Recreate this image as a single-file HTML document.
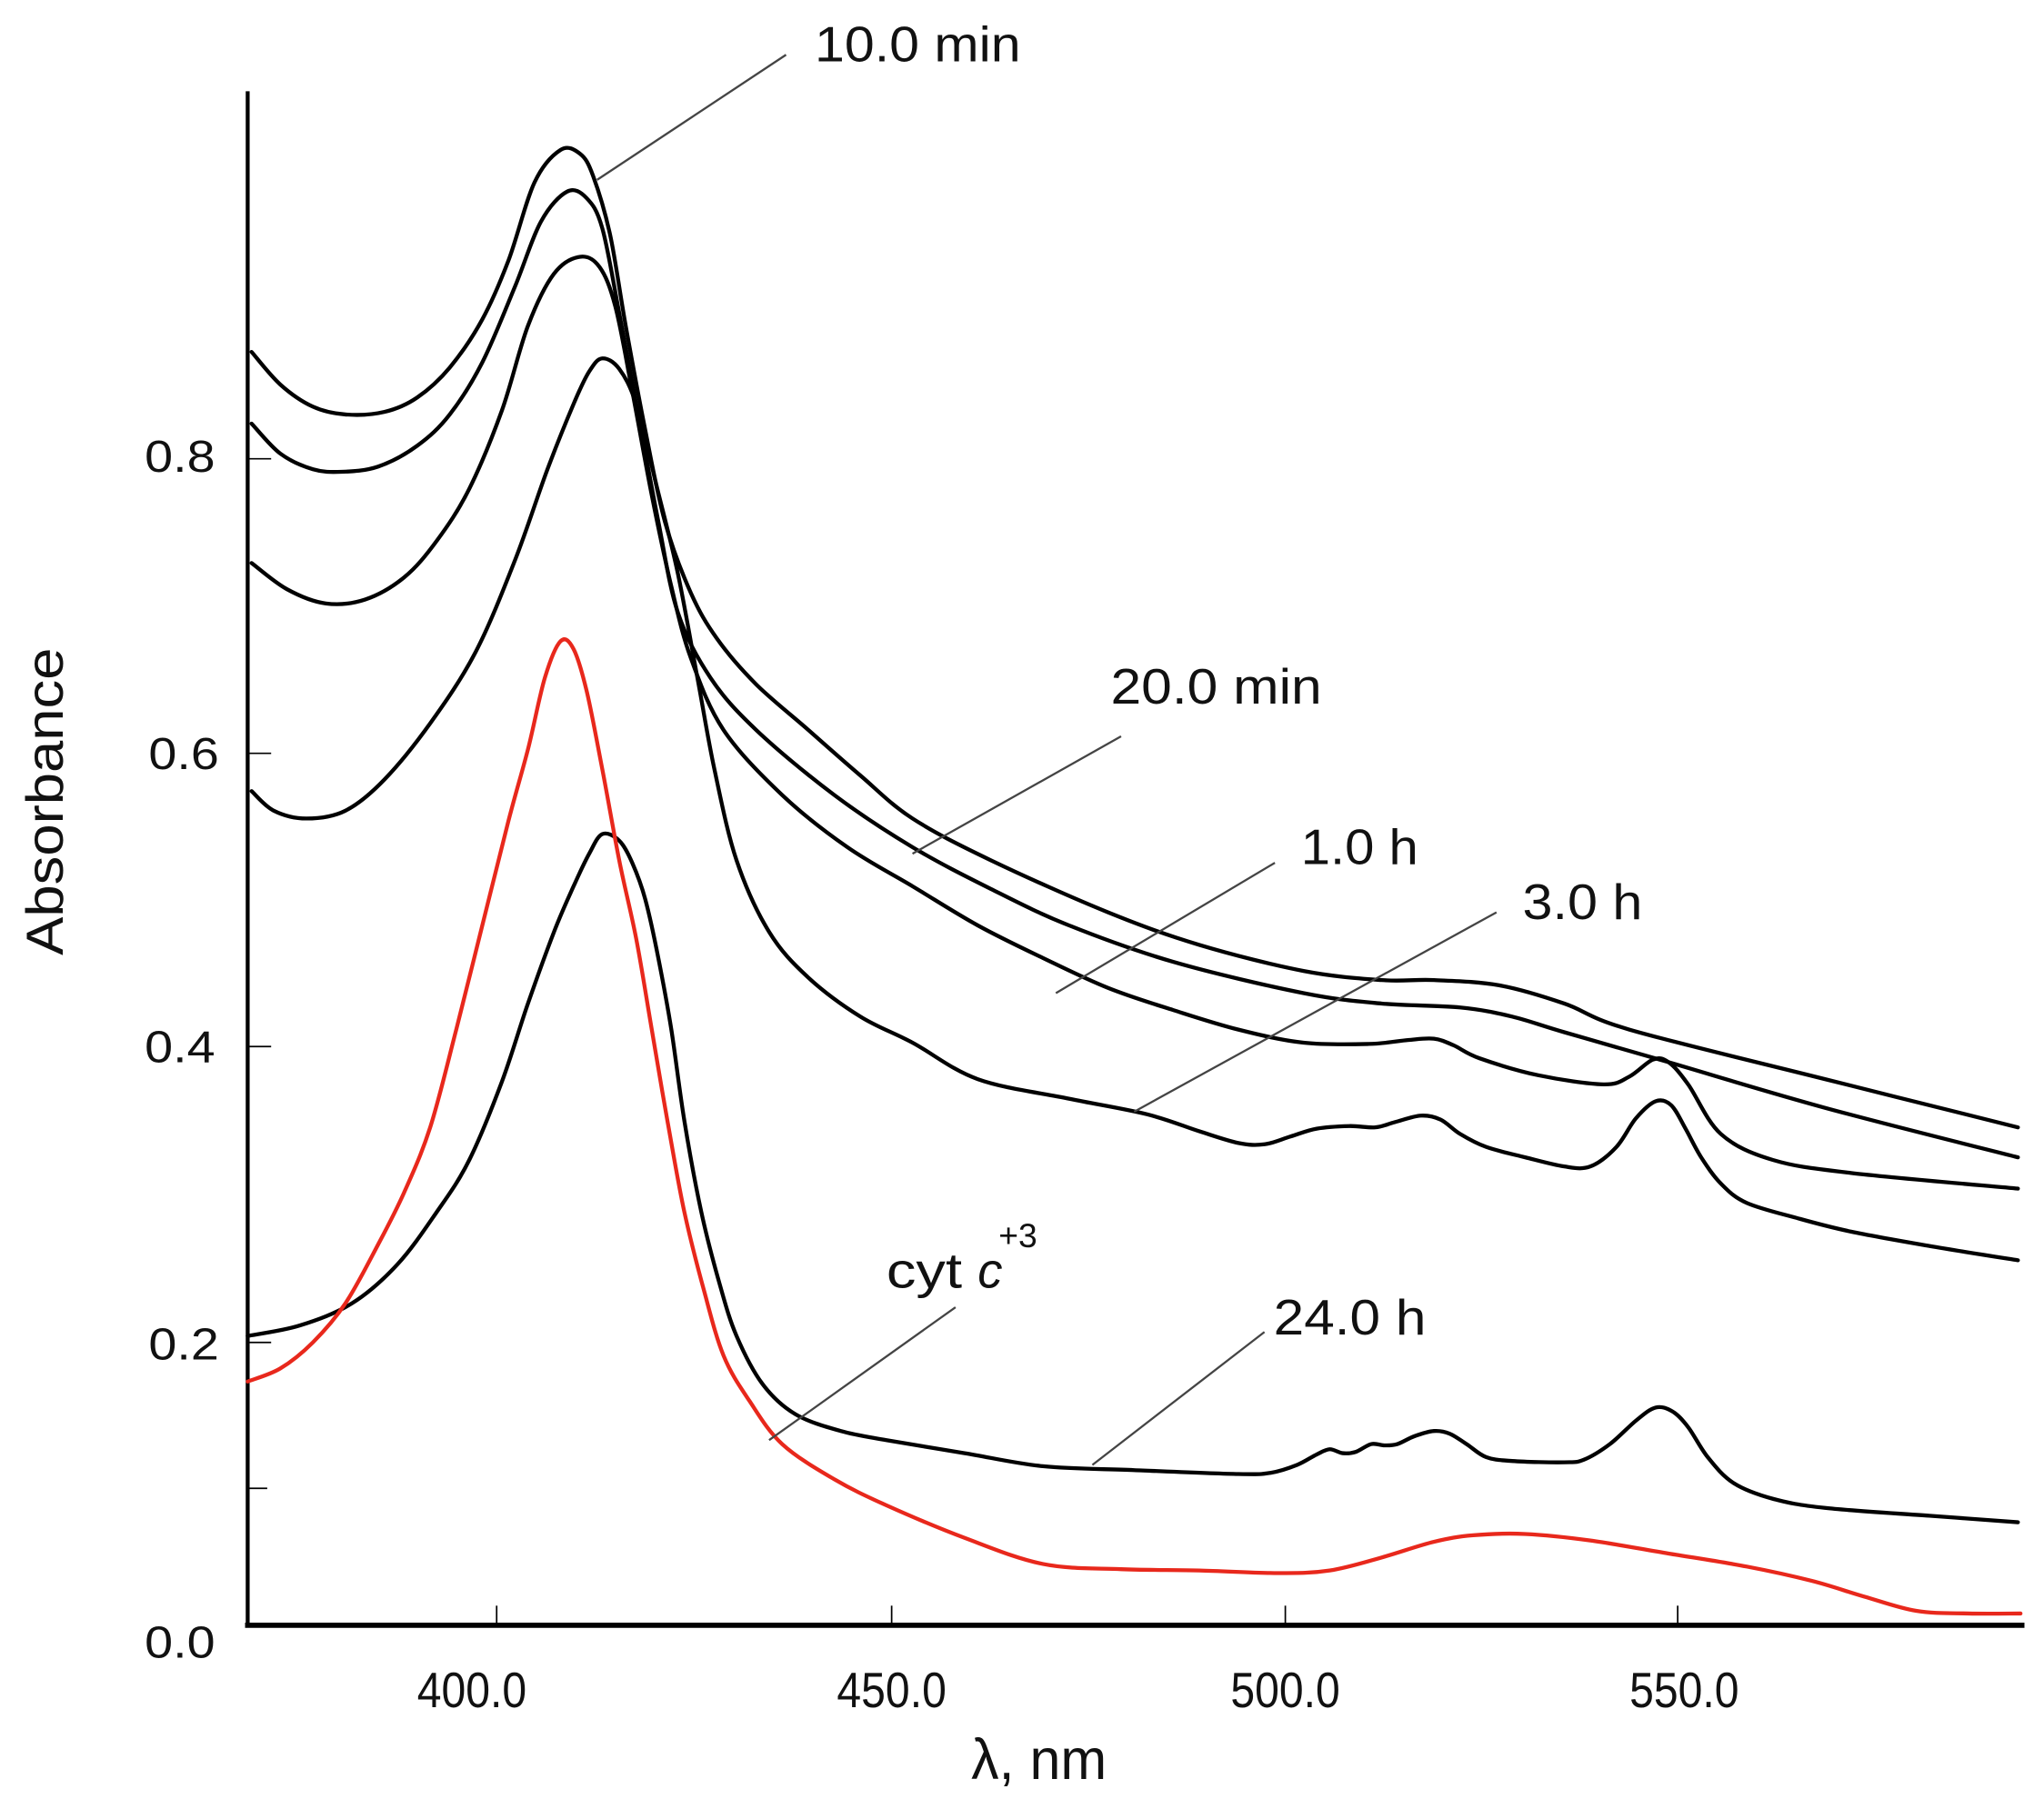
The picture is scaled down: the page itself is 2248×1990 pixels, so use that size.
<!DOCTYPE html>
<html><head><meta charset="utf-8"><style>
html,body{margin:0;padding:0;background:#fff;}
svg{display:block;}
text{font-family:"Liberation Sans",sans-serif;fill:#111;}
</style></head><body>
<svg id="s" width="2248" height="1990" viewBox="0 0 1568 1388" xmlns="http://www.w3.org/2000/svg">
<rect width="1568" height="1388" fill="#fff"/>
<g stroke="#000" fill="none">
<line x1="190" y1="70" x2="190" y2="1248" stroke-width="3"/>
<line x1="188" y1="1247" x2="1553" y2="1247" stroke-width="4"/>
<line x1="381" y1="1247" x2="381" y2="1232" stroke-width="1.2"/>
<line x1="684" y1="1247" x2="684" y2="1232" stroke-width="1.2"/>
<line x1="986" y1="1247" x2="986" y2="1232" stroke-width="1.2"/>
<line x1="1287" y1="1247" x2="1287" y2="1232" stroke-width="1.2"/>
<line x1="190" y1="352" x2="208" y2="352" stroke-width="1.2"/>
<line x1="190" y1="578" x2="208" y2="578" stroke-width="1.2"/>
<line x1="190" y1="803" x2="208" y2="803" stroke-width="1.2"/>
<line x1="190" y1="1030" x2="208" y2="1030" stroke-width="1.2"/>
<line x1="190" y1="1142" x2="205" y2="1142" stroke-width="1.2"/>
</g>
<g stroke="#000" stroke-width="3" fill="none" stroke-linejoin="round" stroke-linecap="round">
<polyline class="sm" points="193,270 215,295 240,312 265,318 295,316 320,305 345,282 370,245 390,200 410,140 430,115 445,118 455,135 468,180 480,250 495,330 510,400 530,455 550,490 580,525 620,560 660,595 700,628 760,660 850,700 920,725 1000,745 1060,752 1100,752 1150,756 1200,770 1250,790 1400,828 1548,865"/>
<polyline class="sm" points="193,325 215,348 240,360 262,362 290,358 320,342 345,318 370,278 395,220 415,170 435,147 450,152 462,175 475,240 490,320 505,400 520,470 545,520 580,560 640,610 700,650 760,682 820,710 900,738 1000,762 1060,770 1120,773 1160,780 1200,792 1280,815 1400,850 1548,888"/>
<polyline class="sm" points="193,432 220,452 250,463 280,460 310,443 335,415 360,375 385,315 405,250 425,210 445,197 460,205 472,235 485,300 500,380 515,450 530,505 555,560 600,610 650,650 700,680 750,710 800,735 850,758 900,775 950,790 1000,800 1050,801 1080,798 1100,797 1115,802 1135,812 1180,825 1230,832 1250,826 1268,813 1280,815 1295,832 1320,870 1360,890 1420,900 1548,912"/>
<polyline class="sm" points="193,607 210,622 235,628 265,622 295,598 330,555 365,500 395,430 420,360 440,310 452,285 462,275 475,283 488,310 503,370 520,440 535,520 548,590 565,660 590,715 620,750 660,780 700,800 750,828 820,843 880,855 920,868 950,877 970,878 990,872 1010,866 1035,864 1055,865 1070,861 1090,856 1105,859 1120,870 1140,880 1170,888 1200,895 1220,895 1240,880 1255,858 1270,845 1282,848 1293,866 1305,888 1320,908 1340,923 1380,935 1420,945 1480,956 1548,967"/>
<polyline class="sm" points="190,1025 230,1017 270,1000 305,970 335,930 360,890 385,830 405,770 425,715 440,680 452,655 462,640 475,645 485,662 495,690 505,735 515,790 525,860 538,930 552,985 565,1025 585,1062 610,1085 645,1098 680,1105 740,1115 800,1125 870,1128 950,1131 975,1130 995,1124 1010,1116 1020,1112 1030,1115 1040,1114 1052,1108 1062,1109 1072,1108 1085,1102 1100,1098 1112,1100 1125,1108 1140,1118 1160,1121 1200,1122 1215,1120 1235,1108 1255,1090 1270,1080 1283,1083 1295,1095 1310,1118 1330,1138 1360,1150 1400,1157 1480,1163 1548,1168"/>
<polyline class="sm" stroke="#e8281c" points="190,1060 215,1050 240,1030 265,1000 290,955 310,915 330,865 350,790 370,710 390,630 405,575 418,520 430,492 440,498 450,530 462,590 475,660 488,720 500,790 512,860 525,930 540,990 555,1040 575,1075 600,1108 640,1135 680,1155 740,1180 800,1200 860,1204 920,1205 980,1207 1020,1205 1060,1195 1100,1183 1130,1178 1170,1177 1220,1182 1280,1192 1340,1202 1390,1213 1430,1225 1470,1236 1510,1238 1550,1238"/>
</g>
<g stroke="#444" stroke-width="1.6">
<line x1="458" y1="138" x2="603" y2="42"/>
<line x1="700" y1="655" x2="860" y2="565"/>
<line x1="810" y1="762" x2="978" y2="662"/>
<line x1="870" y1="853" x2="1148" y2="700"/>
<line x1="590" y1="1105" x2="733" y2="1003"/>
<line x1="838" y1="1124" x2="970" y2="1022"/>
</g>
<g font-size="38">
<text x="625" y="47" textLength="158" lengthAdjust="spacingAndGlyphs">10.0 min</text>
<text x="852" y="540" textLength="162" lengthAdjust="spacingAndGlyphs">20.0 min</text>
<text x="998" y="663" textLength="90" lengthAdjust="spacingAndGlyphs">1.0 h</text>
<text x="1168" y="705" textLength="92" lengthAdjust="spacingAndGlyphs">3.0 h</text>
<text x="977" y="1024" textLength="117" lengthAdjust="spacingAndGlyphs">24.0 h</text>
<text x="680" y="988" textLength="58" lengthAdjust="spacingAndGlyphs">cyt</text>
<text x="750" y="988" font-style="italic">c</text>
<text x="766" y="957" font-size="26">+3</text>
</g>
<g font-size="34" text-anchor="end">
<text x="165" y="362" textLength="54" lengthAdjust="spacingAndGlyphs">0.8</text>
<text x="168" y="590" textLength="54" lengthAdjust="spacingAndGlyphs">0.6</text>
<text x="165" y="815" textLength="54" lengthAdjust="spacingAndGlyphs">0.4</text>
<text x="168" y="1043" textLength="54" lengthAdjust="spacingAndGlyphs">0.2</text>
<text x="165" y="1272" textLength="54" lengthAdjust="spacingAndGlyphs">0.0</text>
</g>
<g font-size="38" text-anchor="middle">
<text x="362" y="1310" textLength="84" lengthAdjust="spacingAndGlyphs">400.0</text>
<text x="684" y="1310" textLength="84" lengthAdjust="spacingAndGlyphs">450.0</text>
<text x="986" y="1310" textLength="84" lengthAdjust="spacingAndGlyphs">500.0</text>
<text x="1292" y="1310" textLength="84" lengthAdjust="spacingAndGlyphs">550.0</text>
<text x="797" y="1365" font-size="44" textLength="104" lengthAdjust="spacingAndGlyphs">λ, nm</text>
<text transform="translate(48,615) rotate(-90)" font-size="40" textLength="236" lengthAdjust="spacingAndGlyphs">Absorbance</text>
</g>
</svg>
<script>
document.querySelectorAll('polyline.sm').forEach(function(pl){
  var p=pl.getAttribute('points').trim().split(/\s+/).map(function(s){return s.split(',').map(Number);});
  var d='M'+p[0][0]+','+p[0][1];
  for(var i=0;i<p.length-1;i++){
    var p0=p[i-1]||p[i],p1=p[i],p2=p[i+1],p3=p[i+2]||p2;
    var c1x=p1[0]+(p2[0]-p0[0])/6,c1y=p1[1]+(p2[1]-p0[1])/6;
    var c2x=p2[0]-(p3[0]-p1[0])/6,c2y=p2[1]-(p3[1]-p1[1])/6;
    d+=' C'+c1x.toFixed(1)+','+c1y.toFixed(1)+' '+c2x.toFixed(1)+','+c2y.toFixed(1)+' '+p2[0]+','+p2[1];
  }
  var path=document.createElementNS('http://www.w3.org/2000/svg','path');
  path.setAttribute('d',d);
  var st=pl.getAttribute('stroke'); if(st) path.setAttribute('stroke',st);
  pl.parentNode.replaceChild(path,pl);
});
</script>
</body></html>
